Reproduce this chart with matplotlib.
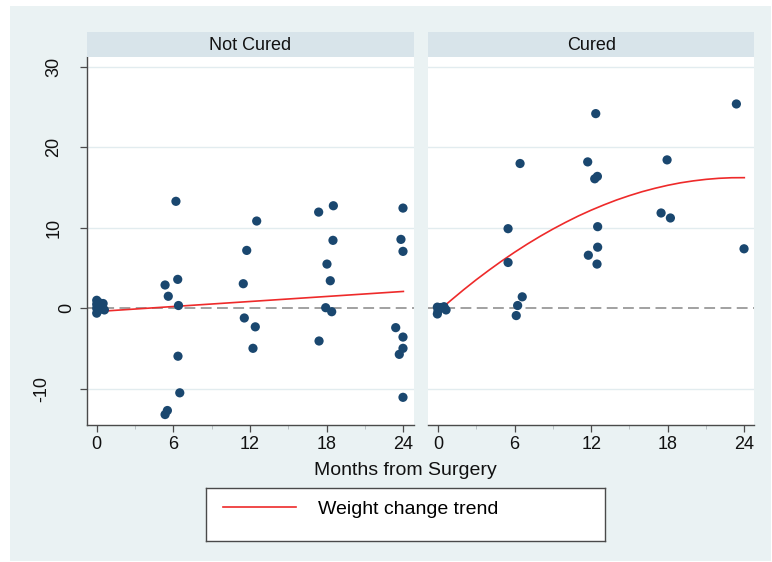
import matplotlib
matplotlib.use("Agg")
import matplotlib.pyplot as plt
from matplotlib.patches import Rectangle
from matplotlib.lines import Line2D

plt.rcParams['font.family'] = ['Liberation Sans', 'DejaVu Sans']

# ---------------- data ----------------
panel_titles = ["Not Cured", "Cured"]

nc_months = [0.0, 0.0, 0.0, 0.2, 0.35, 0.5, 0.6, 0.1, 0.0,
             6.2, 6.34, 5.35, 5.6, 6.4, 6.36, 6.5, 5.53, 5.35,
             12.52, 11.74, 11.47, 11.55, 12.41, 12.23,
             17.37, 18.52, 18.49, 18.02, 18.28, 17.92, 18.39, 17.4,
             23.97, 23.81, 23.97, 23.4, 23.97, 23.97, 23.68, 23.97]
nc_change = [1.0, 0.5, -0.6, 0.7, 0.3, 0.6, -0.2, -0.3, 0.0,
             13.3, 3.6, 2.9, 1.5, 0.35, -5.95, -10.5, -12.7, -13.2,
             10.85, 7.2, 3.06, -1.2, -2.3, -4.97,
             11.96, 12.75, 8.45, 5.5, 3.43, 0.08, -0.42, -4.06,
             12.46, 8.57, 7.08, -2.4, -3.57, -4.97, -5.72, -11.06]

c_months = [-0.05, -0.05, 0.0, 0.47, 0.63, 0.2,
            6.43, 5.49, 5.49, 6.6, 6.24, 6.13,
            12.36, 11.73, 12.28, 12.49, 12.51, 12.51, 11.78, 12.46,
            17.95, 17.48, 18.21,
            23.38, 23.98]
c_change = [0.15, -0.7, -0.3, 0.2, -0.2, 0.1,
            18.0, 9.9, 5.7, 1.43, 0.35, -0.9,
            24.2, 18.2, 16.1, 16.4, 10.15, 7.6, 6.6, 5.5,
            18.45, 11.85, 11.23,
            25.4, 7.4]

nc_trend_months = [0, 24]
nc_trend_values = [-0.4, 2.1]

c_trend_months = [0, 0.5, 1, 2, 3, 4, 5, 6, 7, 8, 9, 10, 11, 12, 13, 14,
                  15, 16, 17, 18, 19, 20, 21, 22, 23, 24]
c_trend_values = [-0.4, 0.30, 0.98, 2.30, 3.56, 4.75, 5.89, 6.97, 7.99,
                  8.95, 9.85, 10.69, 11.48, 12.20, 12.86, 13.47, 14.01,
                  14.50, 14.92, 15.29, 15.60, 15.84, 16.03, 16.16, 16.23,
                  16.24]

x_ticks = [0, 6, 12, 18, 24]
x_minor = [3, 9, 15, 21]
y_ticks = [-10, 0, 10, 20, 30]
x_label = "Months from Surgery"
legend_label = "Weight change trend"

# ---------------- style ----------------
W, H = 772, 562
BG = '#EAF2F3'
STRIP = '#D8E4EA'
GRID = '#E2ECEF'
NAVY = '#1A476F'
RED = '#EE2A2A'
AXC = '#4A4A4A'

fig = plt.figure(figsize=(W / 100, H / 100), dpi=100)
fig.patch.set_facecolor('white')


def fx(px):
    return px / W


def fy(py):
    return 1 - py / H


fig.patches.append(Rectangle((fx(10), fy(561)), fx(761), 555 / H,
                             transform=fig.transFigure, facecolor=BG,
                             edgecolor='none', zorder=-10))

plot_top, plot_bot = 57.3, 425.0
panels = [(86.5, 413.6), (427.8, 754.5)]
datasets = [(nc_months, nc_change, nc_trend_months, nc_trend_values),
            (c_months, c_change, c_trend_months, c_trend_values)]

for i, ((l, r), (mx, my, tx, ty), title) in enumerate(zip(panels, datasets, panel_titles)):
    ax = fig.add_axes([fx(l), fy(plot_bot), fx(r - l), (plot_bot - plot_top) / H])
    ax.set_facecolor('white')
    ax.set_xlim(-0.8, 24.8)
    ax.set_ylim(-14.5, 31.2)
    for yv in y_ticks:
        if yv != 0:
            ax.axhline(yv, color=GRID, lw=1.0, zorder=1)
    ax.axhline(0, color='#9A9A9A', lw=1.3, dashes=(6, 3), zorder=2)
    ax.plot(tx, ty, color=RED, lw=1.2, zorder=3)
    ax.scatter(mx, my, s=44, color=NAVY, edgecolors='none', zorder=4)

    for s in ['top', 'right']:
        ax.spines[s].set_visible(False)
    ax.spines['bottom'].set_color(AXC)
    ax.spines['bottom'].set_linewidth(1.0)
    ax.set_xticks(x_ticks)
    ax.set_xticks(x_minor, minor=True)
    ax.tick_params(axis='x', which='major', direction='out', length=5, width=0.9,
                   color=AXC, labelsize=13, pad=3, labelcolor='#111111')
    ax.tick_params(axis='x', which='minor', direction='out', length=3, width=0.6,
                   color='#B0B8BC')
    ax.set_yticks(y_ticks)
    if i == 0:
        ax.spines['left'].set_color(AXC)
        ax.spines['left'].set_linewidth(1.0)
        ax.tick_params(axis='y', direction='out', length=5, width=0.9, color=AXC,
                       labelleft=False)
        for yv in y_ticks:
            lab = str(yv)
            ax.annotate(lab, xy=(0, yv), xycoords=('axes fraction', 'data'),
                        xytext=(-14.5 - 9.0 * (len(lab) - 1), 0),
                        textcoords='offset points', rotation=90,
                        ha='center', va='center', fontsize=13, color='#111111')
    else:
        ax.spines['left'].set_visible(False)
        ax.tick_params(axis='y', left=False, labelleft=False)

    # strip
    sax = fig.add_axes([fx(l), fy(57.3), fx(r - l), (57.3 - 32.3) / H])
    sax.set_facecolor(STRIP)
    sax.set_xticks([])
    sax.set_yticks([])
    for s in sax.spines.values():
        s.set_visible(False)
    sax.text(0.5, 0.47, title, ha='center', va='center', fontsize=13,
             color='#111111', transform=sax.transAxes)

fig.text(fx(405.5), fy(470.5), x_label, ha='center', va='center', fontsize=14,
         color='#111111')

# legend box
lax = fig.add_axes([fx(205.7), fy(541), fx(605.3 - 205.7), (541 - 488.3) / H])
lax.set_facecolor('white')
lax.set_xticks([])
lax.set_yticks([])
for s in lax.spines.values():
    s.set_color(AXC)
    s.set_linewidth(1.0)
handle = Line2D([], [], color=RED, lw=1.2)
lax.legend(handles=[handle], labels=[legend_label], loc='center left',
           bbox_to_anchor=(17 / 400, 0.607), frameon=False, fontsize=14,
           handlelength=3.75, handletextpad=1.16, borderpad=0, borderaxespad=0)

fig.savefig('out.png', dpi=100, facecolor='white')
